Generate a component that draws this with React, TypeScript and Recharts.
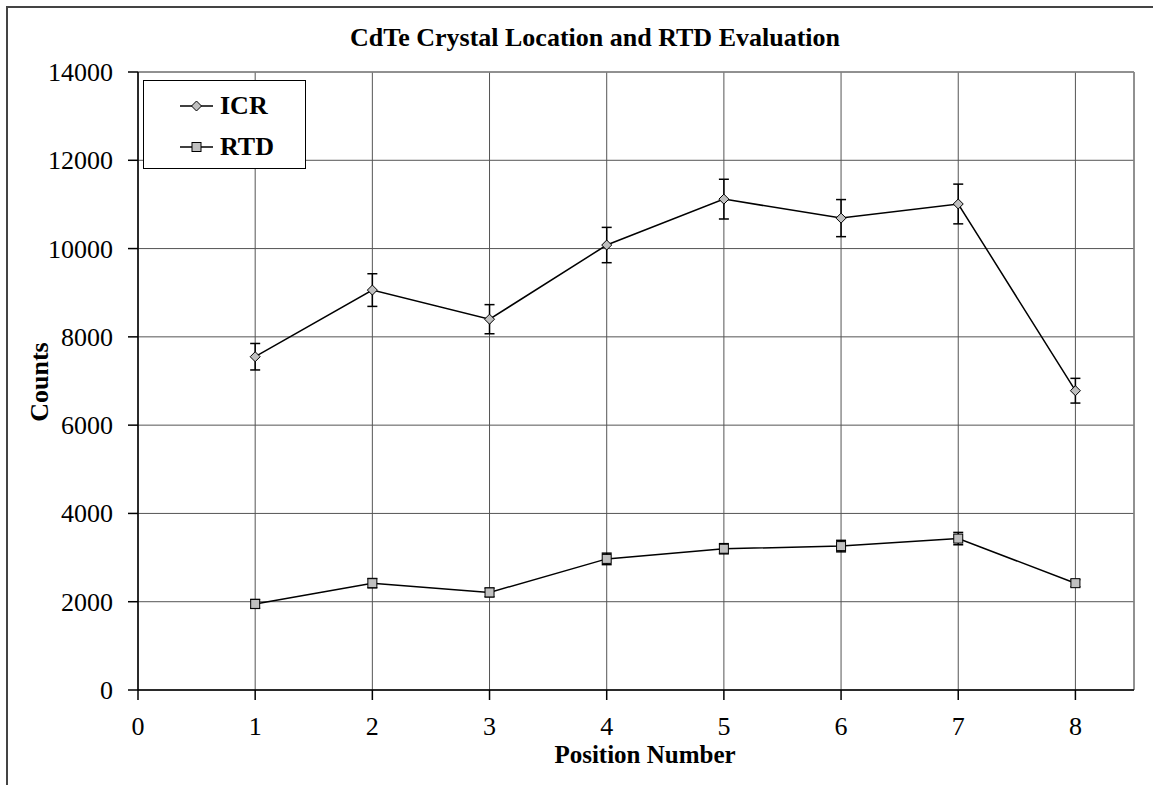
import React from 'react';
import { LineChart, Line, XAxis, YAxis, CartesianGrid, ErrorBar, ReferenceLine } from 'recharts';

const positions = [1, 2, 3, 4, 5, 6, 7, 8];
const icrValues = [7550, 9060, 8400, 10080, 11120, 10690, 11010, 6780];
const icrErrors = [300, 370, 330, 400, 450, 420, 450, 280];
const rtdValues = [1950, 2420, 2210, 2970, 3200, 3260, 3430, 2420];
const rtdErrors = [100, 105, 100, 130, 115, 130, 140, 80];
const xTicks = [0, 1, 2, 3, 4, 5, 6, 7, 8];
const yTicks = [0, 2000, 4000, 6000, 8000, 10000, 12000, 14000];
const seriesNames = ['ICR', 'RTD'];

const data = positions.map((p, i) => ({
  pos: p,
  icr: icrValues[i],
  icrErr: icrErrors[i],
  rtd: rtdValues[i],
  rtdErr: rtdErrors[i],
}));

const FONT = '"Liberation Serif", "Times New Roman", serif';

const Diamond = (props: any) => {
  const { cx, cy } = props;
  if (cx == null || cy == null) return null;
  const r = 5;
  return (
    <polygon
      points={`${cx},${cy - r} ${cx + r},${cy} ${cx},${cy + r} ${cx - r},${cy}`}
      fill="#c0c0c0"
      stroke="#000"
      strokeWidth={1}
    />
  );
};

const Square = (props: any) => {
  const { cx, cy } = props;
  if (cx == null || cy == null) return null;
  const r = 4.5;
  return <rect x={cx - r} y={cy - r} width={2 * r} height={2 * r} fill="#c0c0c0" stroke="#000" strokeWidth={1} />;
};

const XTick = (props: any) => {
  const { x, y, payload } = props;
  return (
    <text x={x} y={y + 18} textAnchor="middle" fill="#000" style={{ fontFamily: FONT, fontSize: 26 }}>
      {payload.value}
    </text>
  );
};

const YTick = (props: any) => {
  const { x, y, payload } = props;
  return (
    <text x={x} y={y + 9} textAnchor="end" fill="#000" style={{ fontFamily: FONT, fontSize: 26 }}>
      {payload.value}
    </text>
  );
};

const LegendBox = () => (
  <div
    style={{
      position: 'absolute',
      left: 143,
      top: 80,
      width: 163,
      height: 89,
      border: '1px solid #000',
      background: '#fff',
      fontFamily: FONT,
      fontWeight: 'bold',
      fontSize: 26,
      boxSizing: 'border-box',
    }}
  >
    {seriesNames.map((name, i) => (
      <div key={name} style={{ position: 'absolute', left: 36, top: 10 + i * 41, height: 30, display: 'flex', alignItems: 'center' }}>
        <svg width={36} height={30}>
          <line x1={0} y1={15} x2={33} y2={15} stroke="#000" strokeWidth={1.5} />
          {i === 0 ? (
            <polygon points="16.5,10 21.5,15 16.5,20 11.5,15" fill="#c0c0c0" stroke="#000" strokeWidth={1} />
          ) : (
            <rect x={12} y={10.5} width={9} height={9} fill="#c0c0c0" stroke="#000" strokeWidth={1} />
          )}
        </svg>
        <span style={{ marginLeft: 4, lineHeight: '30px' }}>{name}</span>
      </div>
    ))}
  </div>
);

export default function App() {
  return (
    <div style={{ position: 'absolute', left: 0, top: 0, width: 1153, height: 785, overflow: 'hidden', background: '#fff', fontFamily: FONT }}>
      <div
        style={{
          position: 'absolute',
          left: 6,
          top: 6,
          width: 1300,
          height: 900,
          border: '2px solid #444',
          boxSizing: 'border-box',
        }}
      />
      <div
        style={{
          position: 'absolute',
          left: 0,
          width: 1190,
          top: 23,
          textAlign: 'center',
          fontFamily: FONT,
          fontWeight: 'bold',
          fontSize: 26,
          lineHeight: '30px',
        }}
      >
        CdTe Crystal Location and RTD Evaluation
      </div>
      <div
        style={{
          position: 'absolute',
          left: 455,
          width: 380,
          top: 749,
          height: 12,
          textAlign: 'center',
          fontFamily: FONT,
          fontWeight: 'bold',
          fontSize: 25,
          lineHeight: '12px',
        }}
      >
        Position Number
      </div>
      <div
        style={{
          position: 'absolute',
          left: 40,
          top: 382,
          width: 200,
          marginLeft: -100,
          marginTop: -15,
          textAlign: 'center',
          transform: 'rotate(-90deg)',
          fontFamily: FONT,
          fontWeight: 'bold',
          fontSize: 26,
          lineHeight: '30px',
        }}
      >
        Counts
      </div>
      <div style={{ position: 'absolute', left: 0, top: 0 }}>
        <LineChart width={1153} height={785} data={data} margin={{ top: 72, right: 19, bottom: 0, left: 0 }}>
          <CartesianGrid stroke="#555" strokeWidth={1} />
          <XAxis
            dataKey="pos"
            type="number"
            domain={[0, 8.5]}
            ticks={xTicks}
            allowDataOverflow
            tickSize={10}
            tickMargin={17}
            stroke="#000"
            strokeWidth={1.5}
            tick={<XTick />}
            tickLine={{ stroke: '#000' }}
            height={95}
          />
          <YAxis
            type="number"
            domain={[0, 14000]}
            ticks={yTicks}
            tickSize={10}
            tickMargin={15}
            width={138}
            stroke="#000"
            strokeWidth={1.5}
            tick={<YTick />}
            tickLine={{ stroke: '#000' }}
          />
          <ReferenceLine x={8.5} stroke="#888" strokeWidth={1.5} />
          <ReferenceLine y={14000} stroke="#888" strokeWidth={1.5} />
          <Line
            dataKey="icr"
            name={seriesNames[0]}
            stroke="#000"
            strokeWidth={1.5}
            dot={<Diamond />}
            activeDot={false}
            isAnimationActive={false}
          >
            <ErrorBar dataKey="icrErr" direction="y" width={5} stroke="#000" strokeWidth={1.5} />
          </Line>
          <Line
            dataKey="rtd"
            name={seriesNames[1]}
            stroke="#000"
            strokeWidth={1.5}
            dot={<Square />}
            activeDot={false}
            isAnimationActive={false}
          >
            <ErrorBar dataKey="rtdErr" direction="y" width={5} stroke="#000" strokeWidth={1.5} />
          </Line>
        </LineChart>
      </div>
      <LegendBox />
    </div>
  );
}
